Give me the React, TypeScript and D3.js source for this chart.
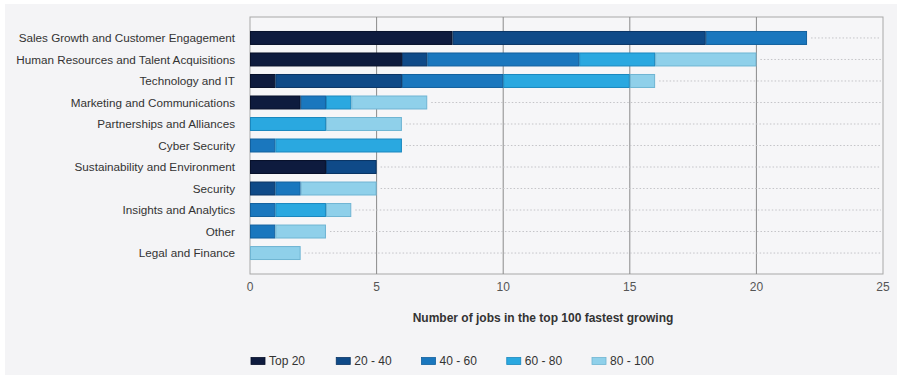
import React from "react";
import * as d3 from "d3";

const categories = [
  "Sales Growth and Customer Engagement",
  "Human Resources and Talent Acquisitions",
  "Technology and IT",
  "Marketing and Communications",
  "Partnerships and Alliances",
  "Cyber Security",
  "Sustainability and Environment",
  "Security",
  "Insights and Analytics",
  "Other",
  "Legal and Finance",
];
const seriesNames = ["Top 20", "20 - 40", "40 - 60", "60 - 80", "80 - 100"];
const top20 = [8, 6, 1, 2, 0, 0, 3, 0, 0, 0, 0];
const r20to40 = [10, 1, 5, 0, 0, 0, 2, 1, 0, 0, 0];
const r40to60 = [4, 6, 4, 1, 0, 1, 0, 1, 1, 1, 0];
const r60to80 = [0, 3, 5, 1, 3, 5, 0, 0, 2, 0, 0];
const r80to100 = [0, 4, 1, 3, 3, 0, 0, 3, 1, 2, 2];
const xTicks = [0, 5, 10, 15, 20, 25];
const colors = ["#0e1b3e", "#0f4a88", "#1a77be", "#2aa8e0", "#8fd0ea"];
const strokes = ["#07102a", "#0a3565", "#12609e", "#1a88bf", "#6fb5d3"];

export default function App() {
  const W = 897, H = 375;
  const x0 = 250, x1 = 883, yTop = 17, yBot = 274;
  const x = d3.scaleLinear().domain([0, 25]).range([x0, x1]);
  const y = d3.scaleBand<string>().domain(categories).range([yTop, yBot]).paddingInner(0.35).paddingOuter(0.65);
  const rows = categories.map((c, i) => ({
    cat: c,
    s0: top20[i], s1: r20to40[i], s2: r40to60[i], s3: r60to80[i], s4: r80to100[i],
  }));
  const keys = ["s0", "s1", "s2", "s3", "s4"];
  const stacked = d3.stack<any>().keys(keys)(rows);
  const totals = rows.map((r) => keys.reduce((a, k) => a + (r as any)[k], 0));
  const font = "'Liberation Sans', Arial, Helvetica, sans-serif";
  const legendX = d3.scaleLinear().domain([0, 4]).range([251, 592]);

  return (
    <svg width={W} height={H} style={{ position: "absolute", left: 0, top: 0 }} fontFamily={font}>
      <rect x={0} y={0} width={W} height={H} fill="#ffffff" />
      <rect x={5} y={4} width={W - 5} height={H - 4} fill="#f4f4f6" />
      <rect x={x0} y={yTop} width={x1 - x0} height={yBot - yTop} fill="#f6f6f8" stroke="#a8a8a8" strokeWidth={1} />
      {xTicks.slice(1, -1).map((t) => (
        <line key={t} x1={x(t)} x2={x(t)} y1={yTop} y2={yBot} stroke="#8a8a8a" strokeWidth={1} />
      ))}
      {categories.map((c, i) => (
        <line key={c} x1={x(totals[i]) + 4} x2={x1 - 2} y1={(y(c) as number) + y.bandwidth() / 2} y2={(y(c) as number) + y.bandwidth() / 2}
          stroke="#c4c4c8" strokeWidth={1} strokeDasharray="1.5,2" />
      ))}
      {stacked.map((layer, li) => (
        <g key={li}>
          {layer.map((d, i) =>
            d[1] - d[0] > 0 ? (
              <rect key={i} x={x(d[0]) + 0.5} y={(y(categories[i]) as number) + 0.5} width={x(d[1]) - x(d[0]) - 1}
                height={y.bandwidth() - 1} fill={colors[li]} stroke={strokes[li]} strokeWidth={1} />
            ) : null
          )}
        </g>
      ))}
      {categories.map((c) => (
        <text key={c} x={235} y={(y(c) as number) + y.bandwidth() / 2} dy="0.35em" textAnchor="end" fontSize={11.7} fill="#333">
          {c}
        </text>
      ))}
      {xTicks.map((t) => (
        <text key={t} x={x(t)} y={291} textAnchor="middle" fontSize={12} fill="#555">{t}</text>
      ))}
      <text x={543} y={322} textAnchor="middle" fontSize={12} fontWeight="bold" fill="#333">
        Number of jobs in the top 100 fastest growing
      </text>
      {seriesNames.map((n, i) => (
        <g key={n} transform={`translate(${legendX(i)},361)`}>
          <rect x={0} y={-3.5} width={14} height={7} fill={colors[i]} stroke={strokes[i]} strokeWidth={0.8} />
          <text x={18} y={0} dy="0.35em" fontSize={12} fill="#333">{n}</text>
        </g>
      ))}
    </svg>
  );
}
